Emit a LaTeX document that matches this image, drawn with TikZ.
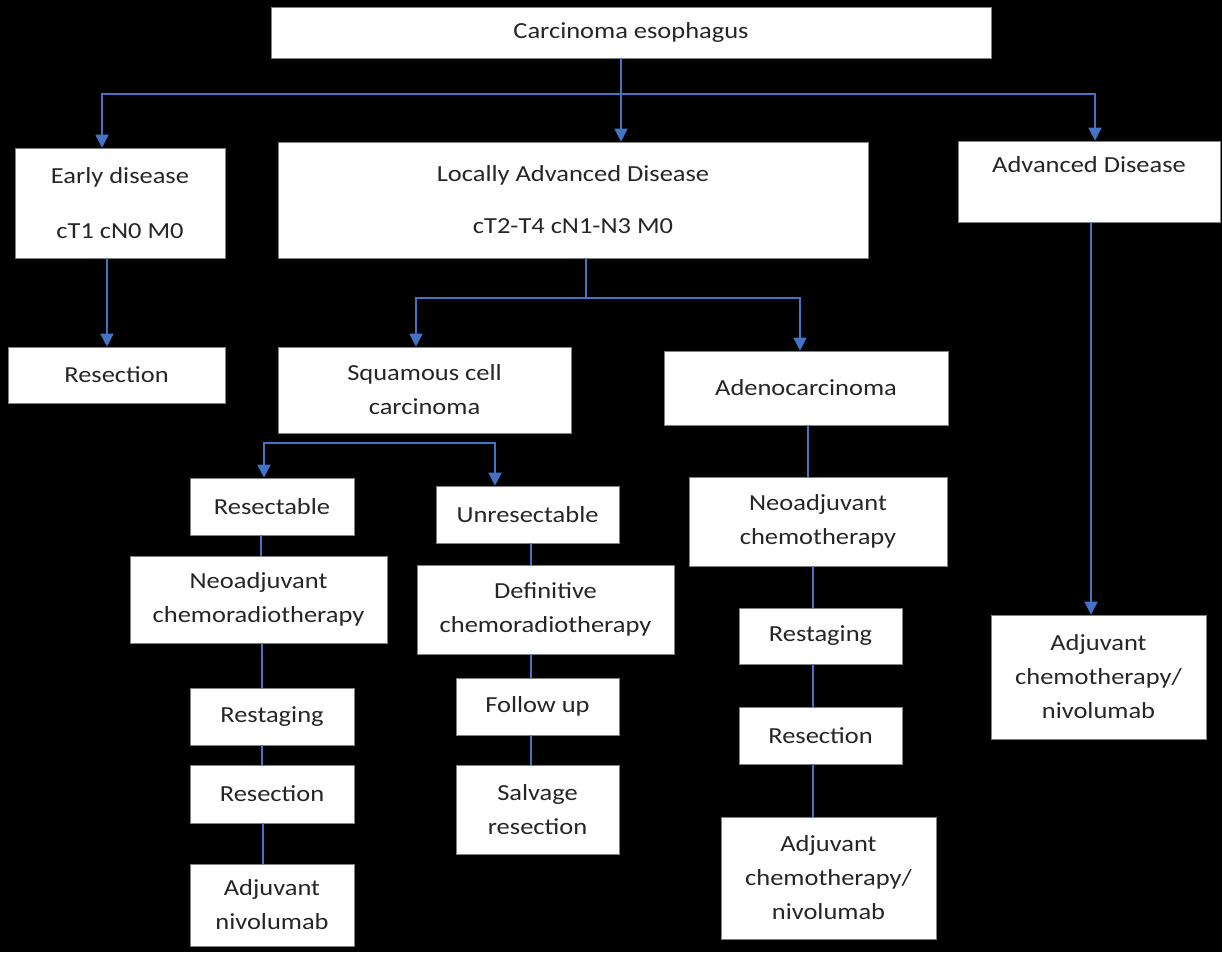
\documentclass[tikz,border=0pt]{standalone}
\usepackage{fontspec}
\setmainfont{Carlito}[FakeStretch=1.15]
\usetikzlibrary{arrows.meta,calc}
\definecolor{lineblue}{HTML}{4472C4}
\begin{document}
\begin{tikzpicture}[
        x=1pt, y=-1pt,
        ln/.style={draw=lineblue, line width=1.6pt},
        arr/.style={ln, -{Triangle[width=13pt,length=13pt]}}]

        \tikzstyle{every node}=[font=\fontsize{23}{34}\selectfont, text=black!85, fill=white, draw=gray, line width=0.6pt, rectangle, align=center, inner sep=0pt]

        \fill[black] (0,0) rectangle (1222,952);
        \useasboundingbox (0,0) rectangle (1222,952);

        % first level
        \node[minimum width=720, minimum height=51] (top) at (631,32.5) {Carcinoma esophagus};
        \node[minimum width=210, minimum height=110] (early) at (120,203) {Early disease\\[21pt]cT1 cN0 M0};
        \node[minimum width=590, minimum height=116] (local) at (573,200) {Locally Advanced Disease\\[18pt]cT2-T4 cN1-N3 M0};
        \node[minimum width=262, minimum height=81] (adv) at (1089,181.5) {Advanced Disease\\~};

        % second level
        \node[minimum width=217, minimum height=56] (earlyres) at (116.5,375) {Resection};
        \node[minimum width=293, minimum height=86] (squam) at (424.5,390) {Squamous cell\\carcinoma};
        \node[minimum width=284, minimum height=74] (adeno) at (806,388) {Adenocarcinoma};
        \node[minimum width=215, minimum height=124] (advadj) at (1098.5,677) {Adjuvant\\chemotherapy/\\nivolumab};

        % squamous, resectable
        \node[minimum width=164, minimum height=57] (resect) at (272,506.5) {Resectable};
        \node[minimum width=257, minimum height=87] (neocrt) at (258.5,599.5) {Neoadjuvant\\chemoradiotherapy};
        \node[minimum width=164, minimum height=57] (restagel) at (272,716.5) {Restaging};
        \node[minimum width=164, minimum height=58] (resectionl) at (272,794) {Resection};
        \node[minimum width=164, minimum height=82] (adjnivo) at (272,905) {Adjuvant\\nivolumab};

        % squamous, unresectable
        \node[minimum width=183, minimum height=57] (unresect) at (527.5,514.5) {Unresectable};
        \node[minimum width=257, minimum height=89] (defcrt) at (545.5,609.5) {Definitive\\chemoradiotherapy};
        \node[minimum width=163, minimum height=57] (follow) at (537.5,706.5) {Follow up};
        \node[minimum width=163, minimum height=89] (salvage) at (537.5,809.5) {Salvage\\resection};

        % adenocarcinoma
        \node[minimum width=258, minimum height=89] (neochemo) at (818,521.5) {Neoadjuvant\\chemotherapy};
        \node[minimum width=163, minimum height=56] (restager) at (820.5,636) {Restaging};
        \node[minimum width=163, minimum height=57] (resectionr) at (820.5,735.5) {Resection};
        \node[minimum width=215, minimum height=122] (adjchemo) at (828.5,878) {Adjuvant\\chemotherapy/\\nivolumab};

        % split points
        \coordinate (split) at (621,94);
        \coordinate (localsplit) at (586,298);
        \coordinate (squamsplit) at (424.5,443);

        % connectors
        \draw[arr] ([xshift=-10pt]top.south) -- ([xshift=-10pt]top.south |- local.north);
        \draw[arr] (split) -| ([xshift=-18pt]early.north);
        \draw[arr] (split) -| ([xshift=6pt]adv.north);
        \draw[arr] ([xshift=-13pt]early.south) -- ([xshift=-13pt]early.south |- earlyres.north);
        \draw[ln] ([xshift=13pt]local.south) -- (localsplit);
        \draw[arr] (localsplit) -| ([xshift=-8.5pt]squam.north);
        \draw[arr] (localsplit) -| ([xshift=-6pt]adeno.north);
        \draw[arr] (squamsplit) -| ([xshift=-8pt]resect.north);
        \draw[arr] (squamsplit) -| ([xshift=-32.5pt]unresect.north);
        \draw[arr] ([xshift=2pt]adv.south) -- ([xshift=2pt]adv.south |- advadj.north);

        \draw[ln] ([xshift=-11pt]resect.south) -- ([xshift=-11pt]resect.south |- neocrt.north);
        \draw[ln] ([xshift=3.5pt]neocrt.south) -- ([xshift=3.5pt]neocrt.south |- restagel.north);
        \draw[ln] ([xshift=-10pt]restagel.south) -- ([xshift=-10pt]restagel.south |- resectionl.north);
        \draw[ln] ([xshift=-9pt]resectionl.south) -- ([xshift=-9pt]resectionl.south |- adjnivo.north);

        \draw[ln] ([xshift=3.5pt]unresect.south) -- ([xshift=3.5pt]unresect.south |- defcrt.north);
        \draw[ln] ([xshift=-14.5pt]defcrt.south) -- ([xshift=-14.5pt]defcrt.south |- follow.north);
        \draw[ln] ([xshift=-6.5pt]follow.south) -- ([xshift=-6.5pt]follow.south |- salvage.north);

        \draw[ln] ([xshift=2pt]adeno.south) -- ([xshift=2pt]adeno.south |- neochemo.north);
        \draw[ln] ([xshift=-5pt]neochemo.south) -- ([xshift=-5pt]neochemo.south |- restager.north);
        \draw[ln] ([xshift=-7.5pt]restager.south) -- ([xshift=-7.5pt]restager.south |- resectionr.north);
        \draw[ln] ([xshift=-7.5pt]resectionr.south) -- ([xshift=-7.5pt]resectionr.south |- adjchemo.north);
    \end{tikzpicture}
\end{document}
